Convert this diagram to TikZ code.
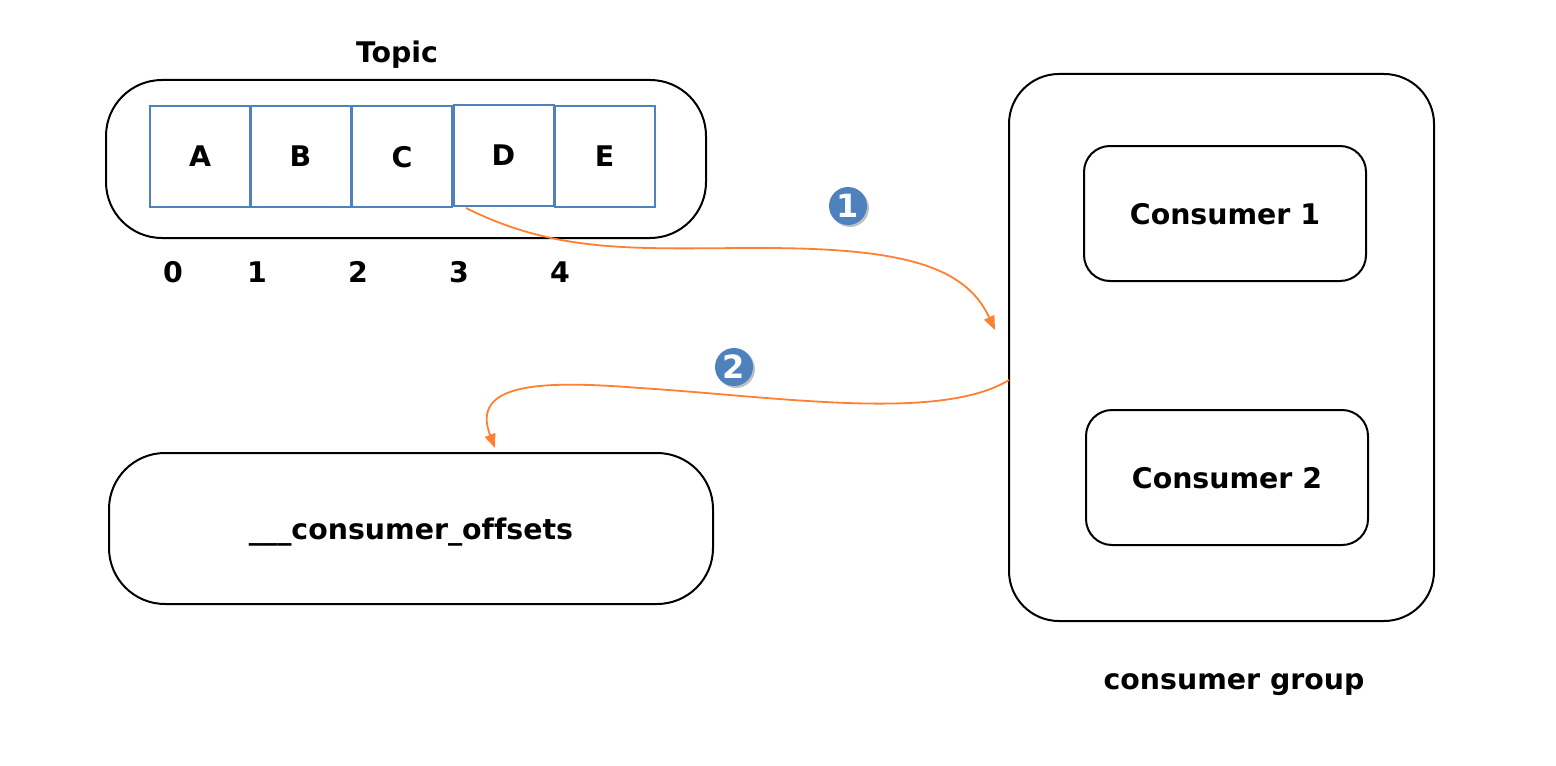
\documentclass[tikz,border=0pt]{standalone}
\usepackage{fontspec}
\setmainfont{DejaVu Sans}[Ligatures=NoCommon]
\usetikzlibrary{arrows.meta}
\definecolor{cellblue}{RGB}{79,129,189}
\definecolor{arrorange}{RGB}{255,128,48}
\tikzset{
  lbl/.style={font=\bfseries\fontsize{14.2}{16}\selectfont, inner sep=0pt, text depth=0pt},
  cell/.style={draw=cellblue, line width=1pt, minimum width=50pt, minimum height=50pt, inner sep=0pt, text depth=0pt, font=\bfseries\fontsize{14.2}{16}\selectfont},
  rbox/.style={draw=black, line width=1pt},
  flow/.style={draw=arrorange, line width=0.9pt, -{Triangle[length=7pt,width=5.5pt]}},
  badge/.style={circle, fill=cellblue, minimum size=19pt, inner sep=0pt, text=white, font=\bfseries\fontsize{16}{16}\selectfont},
  shade/.style={circle, fill=black!25, minimum size=19pt, inner sep=0pt}
}
\begin{document}
\begin{tikzpicture}[x=0.5pt,y=-0.5pt]
\useasboundingbox (0,0) rectangle (1556,765);
% Topic
\node[lbl] (topiclbl) at (397,52) {Topic};
\draw[rbox, rounded corners=28pt] (106,80) rectangle (706,238);
\node[cell] (A) at (200,156.5) {A};
\node[cell] (B) at (300.5,156.5) {B};
\node[cell] (C) at (402,156.5) {C};
\node[cell] (D) at (503.5,155.5) {D};
\node[cell] (E) at (604.5,156.5) {E};
\node[lbl] (i0) at (173,272) {0};
\node[lbl] (i1) at (257,272) {1};
\node[lbl] (i2) at (358,272) {2};
\node[lbl] (i3) at (459,272) {3};
\node[lbl] (i4) at (560,272) {4};
% consumer group
\draw[rbox, rounded corners=25pt] (1009,74) rectangle (1434,621);
\node[rbox, rounded corners=13pt, minimum width=141pt, minimum height=67.5pt, lbl] (c1) at (1225,213.5) {Consumer 1};
\node[rbox, rounded corners=13pt, minimum width=141pt, minimum height=67.5pt, lbl] (c2) at (1227,477.5) {Consumer 2};
\node[lbl] (cg) at (1234,682) {consumer group};
% offsets
\node[rbox, rounded corners=28pt, minimum width=302pt, minimum height=75.5pt, lbl] (off) at (411,528.5) {\_\_\_consumer\_offsets};
% badges
\node[shade] at (850,208) {};
\node[badge] (b1) at (848,206) {1};
\node[shade] at (736,369) {};
\node[badge] (b2) at (734,367) {2};
% arrows
\coordinate (s1) at (466,208);
\coordinate (e1) at (995,330);
\draw[flow] (s1) .. controls (560,255) and (640,248) .. (760,248) .. controls (900,248) and (965,265) .. (e1);
\coordinate (s2) at (1009,380);
\coordinate (e2) at (495,448);
\draw[flow] (s2) .. controls (940,422) and (780,397) .. (640,388) .. controls (540,380) and (470,383) .. (e2);
\end{tikzpicture}
\end{document}
